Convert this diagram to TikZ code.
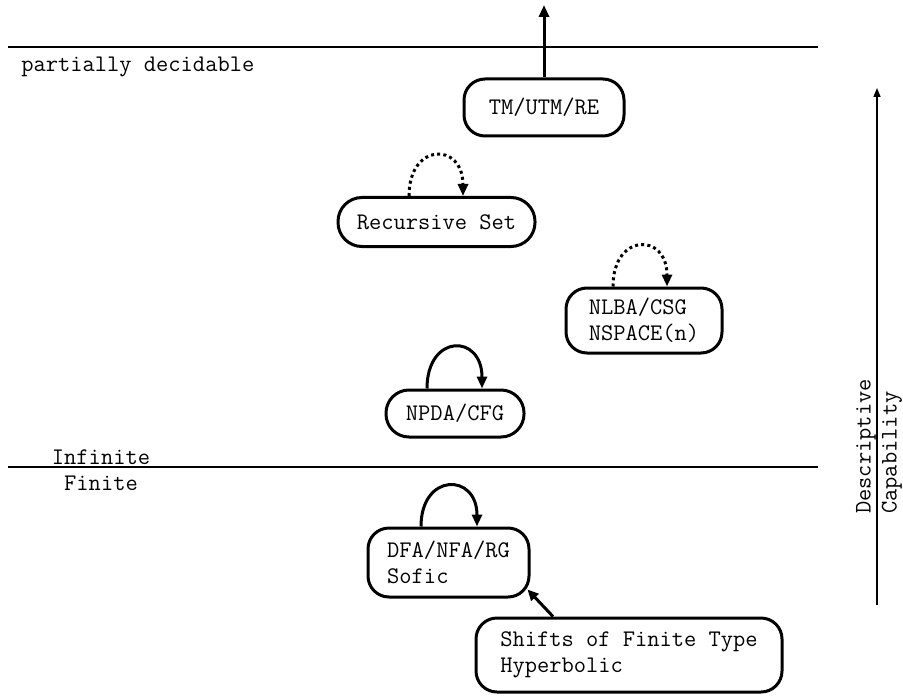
\documentclass[tikz,border=0pt]{standalone}
\usepackage{fontspec}
\usetikzlibrary{arrows.meta,calc}
\begin{document}
\begin{tikzpicture}[x=0.5pt,y=-0.5pt,
  every node/.style={font=\ttfamily\fontsize{11.9}{13}\selectfont},
  box/.style={draw, line width=1.5pt, rounded corners=10.5pt, inner sep=0pt, align=left},
  tip/.style={-{Triangle[length=6pt,width=5pt]}},
  thinarrow/.style={line width=0.75pt, -{Triangle[length=4.5pt,width=3.5pt]}},
  loopln/.style={line width=1.5pt, tip},
  dotln/.style={loopln, dash pattern=on 1.5pt off 1.6pt},
  sep/.style={line width=0.8pt},
  lbl/.style={inner sep=0pt}]
\useasboundingbox (0,0) rectangle (903,695);

% separators
\draw[sep] (8,47) -- (818,47);
\draw[sep] (8,467) -- (818,467);

% region labels
\node[lbl, anchor=west] (pd) at (21,67) {partially decidable};
\node[lbl] (inf) at (101,457) {Infinite};
\node[lbl] (fin) at (101,483) {Finite};

% boxes
\node[box, minimum width=80pt, minimum height=28.5pt] (tm) at (544,107.5) {TM/UTM/RE};
\node[box, rounded corners=12pt, minimum width=98.5pt, minimum height=24.5pt] (rs) at (436.5,222) {Recursive Set};
\node[box, minimum width=78pt, minimum height=32.5pt] (nlba) at (644,320.5) {NLBA/CSG\\NSPACE(n)};
\node[box, rounded corners=11.5pt, minimum width=69pt, minimum height=23.5pt] (npda) at (455,413.5) {NPDA/CFG};
\node[box, minimum width=80.5pt, minimum height=34.5pt] (dfa) at (448.5,562.5) {DFA/NFA/RG\\Sofic};
\node[box, minimum width=153pt, minimum height=37pt] (sft) at (629,655) {Shifts of Finite Type\\Hyperbolic};

% upward arrow from TM
\coordinate (tmtop) at (544,5);
\draw[line width=1.5pt, tip] (tm) -- (tmtop);

% self loops
\draw[dotln] ($(rs.north)+(-27.5,0)$) .. controls +(0,-54) and +(0,-54) .. ($(rs.north)+(26.5,0)$);
\draw[dotln] ($(nlba.north)+(-31,0)$) .. controls +(0,-54) and +(0,-54) .. ($(nlba.north)+(23,0)$);
\draw[loopln] ($(npda.north)+(-28,0)$) .. controls +(0,-55) and +(0,-55) .. ($(npda.north)+(27,0)$);
\draw[loopln] ($(dfa.north)+(-27.5,0)$) .. controls +(0,-54) and +(0,-54) .. ($(dfa.north)+(28.5,0)$);

% SFT -> DFA
\draw[line width=1.5pt, -{Triangle[length=5.5pt,width=5pt]}] ($(sft.north)+(-76,0)$) -- ($(dfa.south east)+(-3,-9)$);

% descriptive capability axis
\coordinate (capbot) at (877,605);
\coordinate (captop) at (877,88);
\draw[thinarrow] (capbot) -- (captop);
\node[lbl, rotate=90, align=left] (dc) at (879,446.5) {Descriptive\\Capability};
\end{tikzpicture}
\end{document}
